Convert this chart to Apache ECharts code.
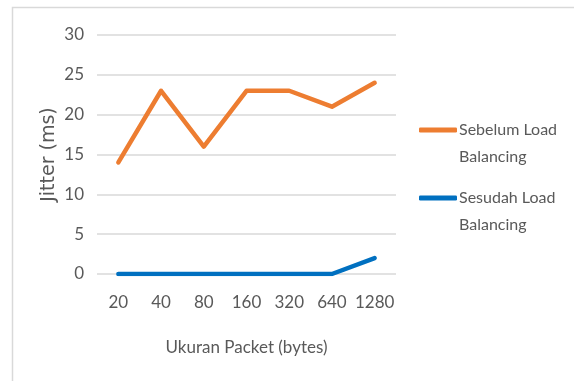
<!DOCTYPE html>
<html>
<head>
<meta charset="utf-8">
<script src="https://cdn.jsdelivr.net/npm/echarts@6/dist/echarts.min.js"></script>
<style>
  html, body { margin: 0; padding: 0; background: #ffffff; }
  #chart { width: 574px; height: 381px; }
</style>
</head>
<body>
<div id="chart"></div>
<script>
// Packet sizes (bytes) and measured jitter (ms)
const packetSizes = ['20', '40', '80', '160', '320', '640', '1280'];
const jitterBefore = [14, 23, 16, 23, 23, 21, 24];
const jitterAfter = [0, 0, 0, 0, 0, 0, 2];
const seriesNames = ['Sebelum Load\nBalancing', 'Sesudah Load\nBalancing'];

const FONT = 'Lato, "Liberation Sans", sans-serif';
const TEXT = '#595959';
const LEGEND_LINE = 27;

// One legend box per series; a leading blank line keeps the icon
// level with the first line of the two-line label
function legendFor(name, top) {
  return {
    orient: 'vertical',
    left: 419,
    top: top,
    padding: 0,
    itemWidth: 38,
    itemHeight: 5,
    icon: 'roundRect',
    formatter: n => '\n' + n,
    textStyle: {
      fontFamily: FONT, fontSize: 16, color: TEXT,
      lineHeight: LEGEND_LINE, padding: [0, 0, 0, -3]
    },
    data: [name]
  };
}

const chart = echarts.init(document.getElementById('chart'), null, { renderer: 'canvas' });

chart.setOption({
  animation: false,
  backgroundColor: '#ffffff',
  graphic: [{
    type: 'rect',
    shape: { x: 12.5, y: 7.5, width: 700, height: 500 },
    style: { fill: 'none', stroke: '#d9d9d9', lineWidth: 1.5 },
    silent: true
  }],
  grid: { left: 97, right: 178, top: 35, bottom: 107, containLabel: false },
  legend: [
    legendFor(seriesNames[0], 89.5),
    legendFor(seriesNames[1], 157.5)
  ],
  xAxis: {
    type: 'category',
    data: packetSizes,
    boundaryGap: true,
    name: 'Ukuran Packet (bytes)',
    nameLocation: 'middle',
    nameGap: 65,
    nameTextStyle: { fontFamily: FONT, fontSize: 17, color: TEXT },
    axisLine: { show: false },
    axisTick: { show: false },
    axisLabel: { interval: 0, fontFamily: FONT, fontSize: 17, color: TEXT, margin: 20 }
  },
  yAxis: {
    type: 'value',
    min: 0,
    max: 30,
    interval: 5,
    name: 'Jitter (ms)',
    nameLocation: 'middle',
    nameGap: 38,
    nameMoveOverlap: false,
    nameTextStyle: { fontFamily: '"DejaVu Sans", sans-serif', fontSize: 19, color: TEXT },
    axisLine: { show: false },
    axisTick: { show: false },
    axisLabel: { fontFamily: FONT, fontSize: 17, color: TEXT, margin: 13 },
    splitLine: { lineStyle: { color: '#d9d9d9', width: 1.5 } }
  },
  series: [
    {
      name: seriesNames[0],
      type: 'line',
      data: jitterBefore,
      symbol: 'none',
      color: '#ED7D31',
      lineStyle: { width: 4.5, cap: 'round', join: 'round' }
    },
    {
      name: seriesNames[1],
      type: 'line',
      data: jitterAfter,
      symbol: 'none',
      color: '#0070C0',
      lineStyle: { width: 4.5, cap: 'round', join: 'round' }
    }
  ]
});
</script>
</body>
</html>
